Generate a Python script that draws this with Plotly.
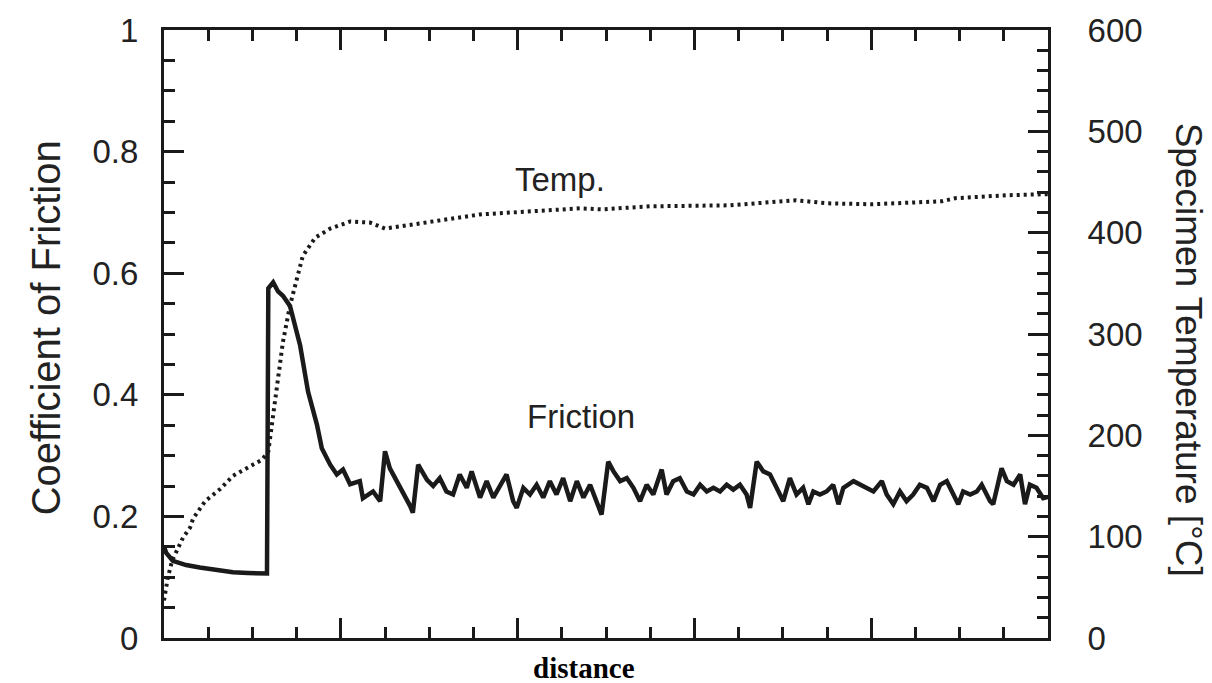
import plotly.graph_objects as go

# ---- data ----
# Friction trace (left axis, coefficient of friction) vs distance (0..20 arbitrary units)
fric_d = [0, 0.05, 0.2, 0.5, 0.81, 1.2, 1.56, 1.9, 2.24, 2.33,
          2.36, 2.47, 2.58, 2.69, 2.85, 3.08, 3.26, 3.46, 3.57, 3.76,
          3.91, 4.05, 4.21, 4.43, 4.50, 4.73, 4.89, 5.00, 5.11, 5.27,
          5.41, 5.57, 5.63, 5.75, 5.95, 6.09, 6.24, 6.39, 6.54, 6.69,
          6.85, 6.96, 7.15, 7.30, 7.45, 7.60, 7.75, 7.90, 7.98, 8.13,
          8.28, 8.43, 8.58, 8.73, 8.88, 9.03, 9.19, 9.34, 9.49, 9.64,
          9.79, 9.90, 10.05, 10.17, 10.32, 10.47, 10.62, 10.77, 10.92, 11.07,
          11.26, 11.37, 11.52, 11.67, 11.83, 11.98, 12.13, 12.28, 12.43, 12.58,
          12.73, 12.88, 13.03, 13.18, 13.26, 13.41, 13.56, 13.71, 13.86, 14.01,
          14.16, 14.31, 14.46, 14.58, 14.69, 14.84, 14.99, 15.14, 15.26, 15.37,
          15.60, 15.75, 15.90, 16.05, 16.24, 16.35, 16.50, 16.65, 16.80, 16.95,
          17.10, 17.26, 17.41, 17.56, 17.71, 17.86, 17.97, 18.08, 18.24, 18.39,
          18.50, 18.69, 18.76, 18.95, 19.07, 19.22, 19.37, 19.48, 19.59, 19.74,
          19.89, 20.0]
fric_v = [0.150, 0.140, 0.127, 0.120, 0.116, 0.111, 0.108, 0.107, 0.106, 0.106,
          0.575, 0.585, 0.570, 0.563, 0.546, 0.481, 0.405, 0.351, 0.312, 0.285,
          0.269, 0.277, 0.253, 0.258, 0.230, 0.241, 0.225, 0.307, 0.279, 0.258,
          0.241, 0.217, 0.206, 0.285, 0.260, 0.250, 0.263, 0.241, 0.236, 0.269,
          0.247, 0.274, 0.231, 0.258, 0.231, 0.252, 0.269, 0.225, 0.214, 0.247,
          0.236, 0.252, 0.231, 0.258, 0.236, 0.263, 0.225, 0.258, 0.231, 0.252,
          0.225, 0.203, 0.290, 0.274, 0.258, 0.263, 0.247, 0.225, 0.252, 0.236,
          0.277, 0.236, 0.258, 0.263, 0.241, 0.236, 0.252, 0.241, 0.247, 0.241,
          0.252, 0.244, 0.252, 0.236, 0.214, 0.290, 0.274, 0.269, 0.247, 0.225,
          0.263, 0.236, 0.247, 0.220, 0.241, 0.236, 0.241, 0.252, 0.220, 0.247,
          0.258, 0.252, 0.247, 0.241, 0.258, 0.236, 0.220, 0.241, 0.225, 0.236,
          0.252, 0.247, 0.225, 0.252, 0.258, 0.236, 0.220, 0.241, 0.236, 0.241,
          0.252, 0.225, 0.220, 0.279, 0.258, 0.252, 0.269, 0.220, 0.252, 0.247,
          0.230, 0.232]

# Specimen temperature trace (right axis, deg C)
temp_d = [0, 0.08, 0.18, 0.32, 0.43, 0.59, 0.66, 0.93, 1.27, 1.56,
          1.88, 2.22, 2.36, 2.45, 2.56, 2.69, 2.85, 3.01, 3.14, 3.42,
          3.76, 4.21, 4.66, 5.0, 5.79, 7.15, 9.41, 9.9, 11.0, 12.0,
          12.8, 14.3, 15.0, 16.0, 17.6, 17.9, 19.1, 20.0]
temp_c = [37, 58, 76, 88, 99, 109, 118, 135, 147, 160,
          168, 176, 184, 215, 250, 292, 328, 353, 377, 395,
          404, 411, 410, 404, 409, 418, 424, 423, 426, 427,
          427, 432, 429, 428, 431, 434, 437, 438]

# axis settings (values only)
x_range = [0, 20]
left_range = [0, 1]
right_range = [0, 600]

INK = "#1a1a1a"
TXT = "#222222"

fig = go.Figure()
fig.add_trace(go.Scatter(x=fric_d, y=fric_v, mode="lines", yaxis="y",
                         line=dict(color=INK, width=4.5), name="Friction"))
fig.add_trace(go.Scatter(x=temp_d, y=temp_c, mode="lines", yaxis="y2",
                         line=dict(color=INK, width=4, dash="3px,4px"), name="Temp."))

axis_common = dict(showgrid=False, zeroline=False, showline=True, linewidth=3,
                   linecolor=INK, ticks="inside", ticklen=20, tickwidth=3, tickcolor=INK)

fig.update_layout(
    width=1212, height=683,
    margin=dict(l=164, r=164, t=25, b=45),
    paper_bgcolor="white", plot_bgcolor="white",
    showlegend=False,
    font=dict(family="Liberation Sans, Arial, sans-serif", color=TXT),
    xaxis=dict(range=x_range, tick0=0, dtick=4, mirror="ticks", showticklabels=False,
               minor=dict(dtick=1, ticks="inside", ticklen=11, tickwidth=3, tickcolor=INK, showgrid=False),
               **axis_common),
    yaxis=dict(range=left_range, tick0=0, dtick=0.2, mirror=False,
               tickfont=dict(size=33, color=TXT), ticklabelstandoff=16,
               minor=dict(dtick=0.05, ticks="inside", ticklen=11, tickwidth=3, tickcolor=INK, showgrid=False),
               **axis_common),
    yaxis2=dict(range=right_range, tick0=0, dtick=100, overlaying="y", side="right",
                tickfont=dict(size=33, color=TXT), ticklabelstandoff=30,
                minor=dict(dtick=20, ticks="inside", ticklen=11, tickwidth=3, tickcolor=INK, showgrid=False),
                **axis_common),
    annotations=[
        dict(text="Coefficient of Friction", xref="paper", yref="paper", x=-0.1335, y=0.511,
             textangle=-90, showarrow=False, xanchor="center", yanchor="middle",
             font=dict(size=40, color=TXT)),
        dict(text="Specimen Temperature [°C]", xref="paper", yref="paper", x=1.159, y=0.475,
             textangle=90, showarrow=False, xanchor="center", yanchor="middle",
             font=dict(size=37, color=TXT)),
        dict(text="Temp.", xref="paper", yref="paper", x=0.448, y=0.754,
             showarrow=False, xanchor="center", yanchor="middle",
             font=dict(size=33, color=TXT)),
        dict(text="Friction", xref="paper", yref="paper", x=0.472, y=0.364,
             showarrow=False, xanchor="center", yanchor="middle",
             font=dict(size=33, color=TXT)),
        dict(text="<b>distance</b>", xref="paper", yref="paper", x=0.475, y=-0.049,
             showarrow=False, xanchor="center", yanchor="middle",
             font=dict(size=29, color="#000000", family="Liberation Serif, Times New Roman, serif")),
    ],
)

fig.write_html("out.html")
